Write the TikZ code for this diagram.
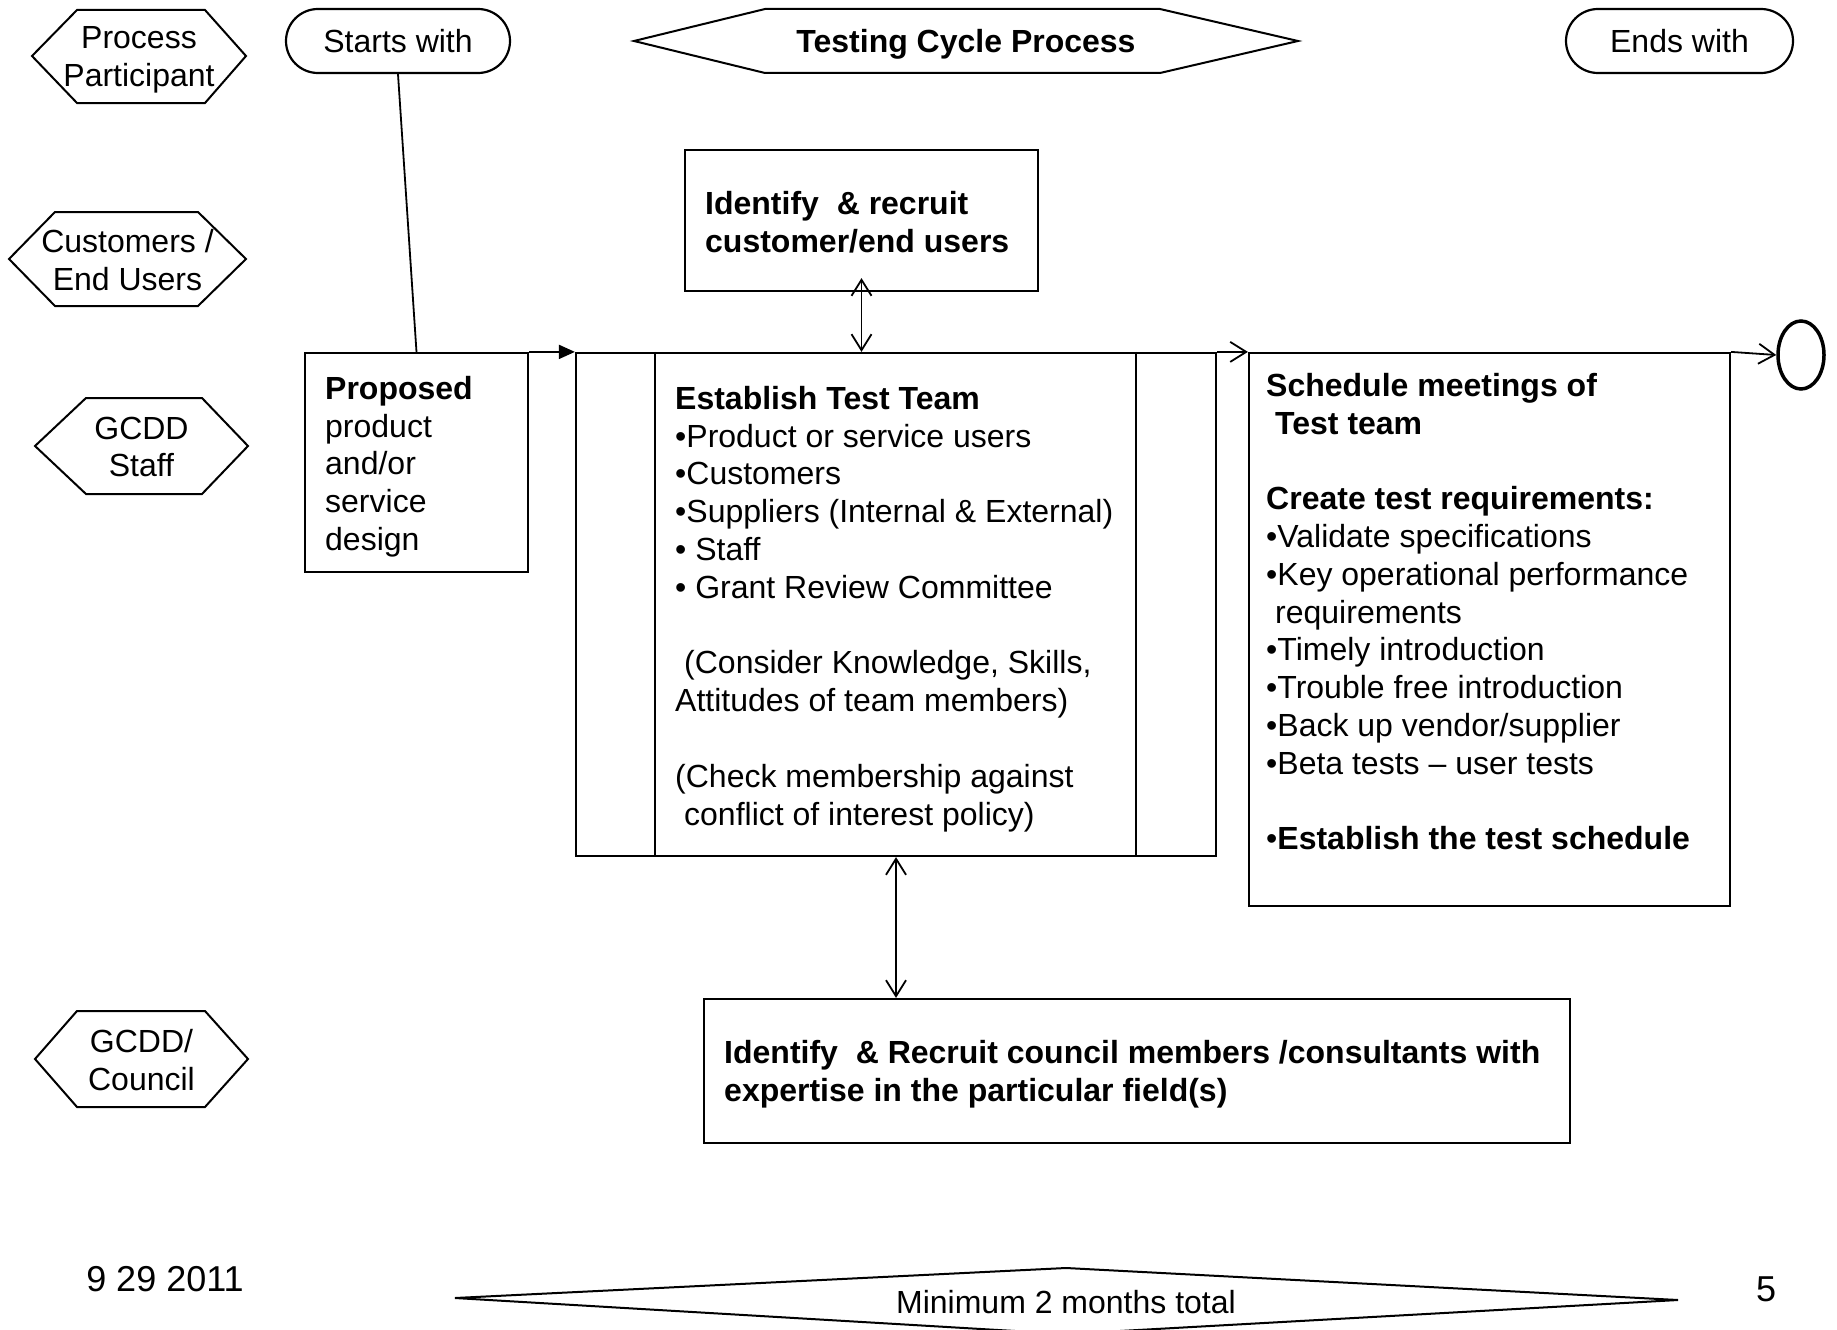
\documentclass[tikz,border=0pt]{standalone}
\usepackage{fontspec}
\setmainfont{Liberation Sans}
\usetikzlibrary{shapes.geometric,arrows.meta}
\newcommand\fs{\fontsize{32}{37.8}\selectfont}
\newcommand\fsb{\fontsize{36}{40}\selectfont}
\begin{document}
\begin{tikzpicture}[x=1pt,y=-1pt,
  box/.style={draw,line width=2.2pt,inner sep=0pt},
  shapeline/.style={draw,line width=2pt,line join=miter},
  txt/.style={inner sep=0pt,anchor=north west,align=left,font=\fs},
  lbl/.style={inner sep=0pt,align=center,font=\fs},
  conn/.style={line width=1.8pt},
  barb/.style={conn,-{Straight Barb[length=16pt,width=20pt,line width=1.8pt]}},
  dbl/.style={conn,{Straight Barb[length=16pt,width=20pt,line width=1.8pt]}-{Straight Barb[length=16pt,width=20pt,line width=1.8pt]}},
  solidtip/.style={conn,-{Triangle[length=16pt,width=14pt]}}
]
\path[use as bounding box,clip] (0,0) rectangle (1837,1330);
\fill[white] (0,0) rectangle (1837,1330);

% participant hexagons
\draw[shapeline] (32,56) -- (77,10) -- (205,10) -- (246,56) -- (205,103) -- (77,103) -- cycle;
\node[lbl] (pp) at (139,60) {Process\\Participant};
\draw[shapeline] (9,259) -- (55,212) -- (198,212) -- (246,259) -- (198,306) -- (55,306) -- cycle;
\node[lbl] (cu) at (127.5,260) {Customers /\\End Users};
\draw[shapeline] (35,446) -- (86,398) -- (202,398) -- (248,446) -- (202,494) -- (86,494) -- cycle;
\node[lbl] (gs) at (141.5,447) {GCDD\\Staff};
\draw[shapeline] (35,1059) -- (77,1011) -- (205,1011) -- (248,1059) -- (205,1107) -- (77,1107) -- cycle;
\node[lbl] (gc) at (141.5,1060) {GCDD/\\Council};

% header
\node[box,rounded corners=32pt,minimum width=224pt,minimum height=64pt,font=\fs] (starts) at (398,41) {Starts with};
\draw[shapeline] (634,41) -- (765,9) -- (1160,9) -- (1298,41) -- (1160,73) -- (765,73) -- cycle;
\node[lbl,font=\fs\bfseries] (title) at (966,44) {Testing Cycle Process};
\node[box,rounded corners=32pt,minimum width=227pt,minimum height=64pt,font=\fs] (ends) at (1679.5,41) {Ends with};

% boxes
\node[box,minimum width=353pt,minimum height=141pt] (ident) at (861.5,220.5) {};
\node[txt,font=\fs\bfseries] (identt) at (705,191) {Identify~ \& recruit\\customer/end users};

\node[box,minimum width=223pt,minimum height=219pt] (prop) at (416.5,462.5) {};
\node[txt] (propt) at (325,376) {\textbf{Proposed}\\product\\and/or\\service\\design};

\node[box,minimum width=640pt,minimum height=503pt] (main) at (896,604.5) {};
\draw[line width=2.2pt] ([xshift=80pt]main.north west) -- ([xshift=80pt]main.south west);
\draw[line width=2.2pt] ([xshift=-81pt]main.north east) -- ([xshift=-81pt]main.south east);
\node[txt] (maint) at (675,386) {\textbf{Establish Test Team}\\
  •Product or service users\\
  •Customers\\
  •Suppliers (Internal \& External)\\
  • Staff\\
  • Grant Review Committee\\[37.8pt]
  \hspace{9pt}(Consider Knowledge, Skills,\\
  Attitudes of team members)\\[37.8pt]
  (Check membership against\\
  \hspace{9pt}conflict of interest policy)};

\node[box,minimum width=481pt,minimum height=553pt] (sched) at (1489.5,629.5) {};
\node[txt] (schedt) at (1266,373) {\textbf{Schedule meetings of}\\
  \hspace{9pt}\textbf{Test team}\\[37.8pt]
  \textbf{Create test requirements:}\\
  •Validate specifications\\
  •Key operational performance\\
  \hspace{9pt}requirements\\
  •Timely introduction\\
  •Trouble free introduction\\
  •Back up vendor/supplier\\
  •Beta tests – user tests\\[37.8pt]
  •\textbf{Establish the test schedule}};

\node[draw,ellipse,line width=3.5pt,minimum width=46pt,minimum height=68pt,inner sep=0pt] (endc) at (1801,355) {};

\node[box,minimum width=866pt,minimum height=144pt] (council) at (1137,1071) {};
\node[txt,font=\fs\bfseries] (councilt) at (724,1040) {Identify~ \& Recruit council members /consultants with\\expertise in the particular field(s)};

% connectors
\draw[conn] (starts.south) -- (prop.north);
\draw[solidtip] (prop.north east) -- (main.north west);
\draw[barb] (main.north east) -- (sched.north west);
\draw[barb] (sched.north east) -- (endc.west);
\draw[dbl] (ident.south |- main.north) -- ([yshift=14pt]ident.south);
\draw[dbl] (main.south) -- (main.south |- council.north);

% footer
\node[inner sep=0pt,font=\fsb] (date) at (165,1279) {9 29 2011};
\draw[shapeline] (455,1298) -- (1066,1268) -- (1678,1300) -- (1066,1334) -- cycle;
\node[lbl] (mint) at (1066,1302) {Minimum 2 months total};
\node[inner sep=0pt,font=\fsb] (pagen) at (1766,1289) {5};
\end{tikzpicture}
\end{document}
